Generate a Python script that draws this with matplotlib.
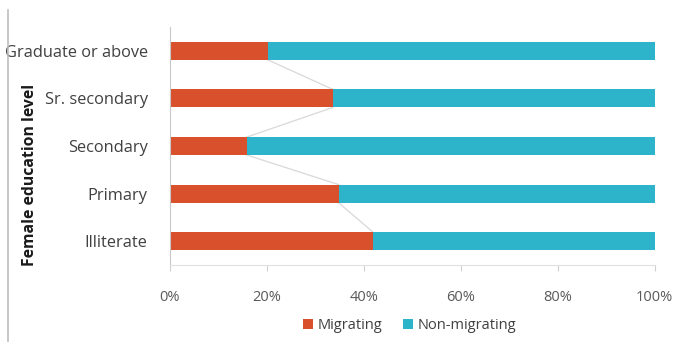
import matplotlib.pyplot as plt
from matplotlib.lines import Line2D
import numpy as np

plt.rcParams['font.family'] = ['Open Sans', 'DejaVu Sans']

# data (bottom to top)
categories = ["Illiterate", "Primary", "Secondary", "Sr. secondary", "Graduate or above"]
migrating = [41.9, 34.8, 15.9, 33.6, 20.2]
non_migrating = [100 - v for v in migrating]
xticks = [0, 20, 40, 60, 80, 100]
xticklabels = ["0%", "20%", "40%", "60%", "80%", "100%"]

c_mig = "#D8512C"
c_non = "#2DB4CA"

fig = plt.figure(figsize=(6.77, 3.42), dpi=100)
ax = fig.add_axes([0.251, 0.225, 0.716, 0.696])

y = np.arange(len(categories))
h = 0.38
ax.barh(y, migrating, height=h, color=c_mig, label="Migrating")
ax.barh(y, non_migrating, left=migrating, height=h, color=c_non, label="Non-migrating")

# series lines between bars
for i in range(len(categories) - 1):
    ax.plot([migrating[i], migrating[i + 1]], [y[i] + h / 2, y[i + 1] - h / 2],
            color="#d8d8d8", lw=0.9, zorder=0)

ax.set_xlim(0, 100)
ax.set_ylim(-0.5, len(categories) - 0.5)
ax.set_yticks(y)
ax.set_yticklabels(categories, fontsize=11.8, color="#404040")
ax.set_xticks(xticks)
ax.set_xticklabels(xticklabels, fontsize=10.5, color="#595959")
ax.tick_params(axis='y', length=0, pad=16)
ax.tick_params(axis='x', length=4, color="#d0d0d0", pad=14)

for s in ["top", "right"]:
    ax.spines[s].set_visible(False)
ax.spines["left"].set_color("#c8c8c8")
ax.spines["bottom"].set_color("#e0e0e0")

ax.set_ylabel("Female education level", fontsize=11.3, fontweight="bold", color="#1a1a1a")
ax.yaxis.set_label_coords(-0.272, 0.38)

fig.legend(loc="center", bbox_to_anchor=(0.605, 0.048), ncol=2, frameon=False,
           fontsize=10.5, handlelength=0.7, handleheight=0.7, handletextpad=0.3,
           columnspacing=1.4, labelcolor="#404040")

# image frame line on the left
fig.add_artist(Line2D([0.012, 0.012], [0.0, 0.97], color="#bfbfbf", lw=1.2))

fig.savefig("out.png", dpi=100)
